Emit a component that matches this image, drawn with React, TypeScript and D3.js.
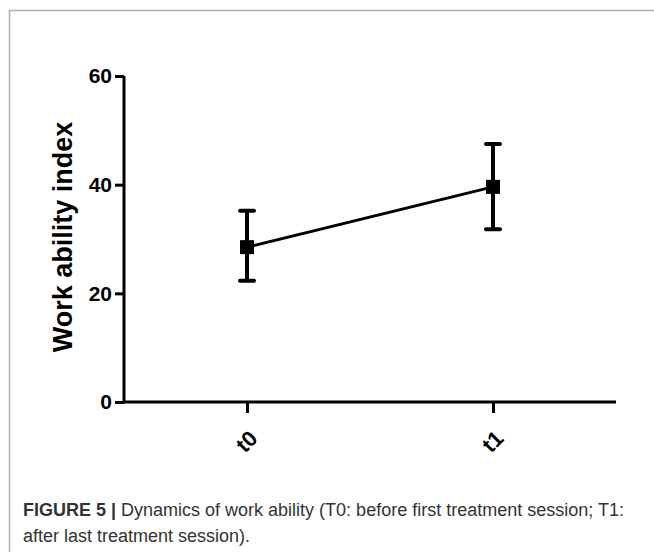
import {useEffect, useRef} from 'react';
import * as d3 from 'd3';

const [W, H] = [654, 552];

const timepoints = ['t0', 't1'];
const means = [28.5, 39.6];
const upper = [35.2, 47.5];
const lower = [22.3, 31.8];
const yTicks = [0, 20, 40, 60];

const FONT = '"Liberation Sans", Arial, sans-serif';

function App() {
    const svgRef = useRef<SVGSVGElement>(null);

    useEffect(() => {
        if (!svgRef.current) return;
        const svg = d3.select(svgRef.current);
        svg.selectAll('*').remove();

        // frame of the figure panel
        svg.append('path')
            .attr('d', `M9.5,${H} V10.5 H${W}`)
            .attr('fill', 'none')
            .attr('stroke', '#b0b0b0')
            .attr('stroke-width', 1.5);

        const x = d3.scalePoint<string>().domain(timepoints).range([124, 616]).padding(0.5);
        const y = d3.scaleLinear().domain([0, 60]).range([402, 76]);

        const yAxis = svg.append('g')
            .attr('transform', 'translate(124,0)')
            .call(d3.axisLeft(y).tickValues(yTicks).tickSize(9).tickPadding(3));
        yAxis.select('.domain').attr('stroke', '#000').attr('stroke-width', 3).attr('d', `M0,${y(60)}V${y(0)}`);
        yAxis.selectAll('.tick line').attr('stroke', '#000').attr('stroke-width', 3);
        yAxis.selectAll('.tick text')
            .attr('font-family', FONT)
            .attr('font-weight', 'bold')
            .attr('font-size', 21)
            .attr('fill', '#000');

        const xAxis = svg.append('g')
            .attr('transform', `translate(0,${y(0)})`)
            .call(d3.axisBottom(x).tickSize(11).tickFormat(() => ''));
        xAxis.select('.domain').attr('stroke', '#000').attr('stroke-width', 3).attr('d', 'M124,0H616');
        xAxis.selectAll('.tick line').attr('stroke', '#000').attr('stroke-width', 3);

        svg.append('g').selectAll('text')
            .data(timepoints)
            .join('text')
            .attr('transform', d => `translate(${x(d)! + 1},${y(0) + 27}) rotate(-45)`)
            .attr('text-anchor', 'end')
            .attr('dy', '0.7em')
            .attr('font-family', FONT)
            .attr('font-weight', 'bold')
            .attr('font-size', 22)
            .text(d => d);

        svg.append('text')
            .attr('transform', `translate(72,237) rotate(-90)`)
            .attr('text-anchor', 'middle')
            .attr('font-family', FONT)
            .attr('font-weight', 'bold')
            .attr('font-size', 27)
            .text('Work ability index');

        // connecting line
        const pts = timepoints.map((t, i) => [x(t)!, y(means[i])] as [number, number]);
        svg.append('path')
            .attr('d', d3.line()(pts))
            .attr('fill', 'none')
            .attr('stroke', '#000')
            .attr('stroke-width', 3);

        const bars = svg.append('g').selectAll('g')
            .data(timepoints)
            .join('g');
        bars.append('line')
            .attr('x1', d => x(d)!).attr('x2', d => x(d)!)
            .attr('y1', (d, i) => y(upper[i])).attr('y2', (d, i) => y(lower[i]))
            .attr('stroke', '#000').attr('stroke-width', 4);
        [upper, lower].forEach(arr => {
            bars.append('line')
                .attr('x1', d => x(d)! - 7).attr('x2', d => x(d)! + 7)
                .attr('y1', (d, i) => y(arr[i])).attr('y2', (d, i) => y(arr[i]))
                .attr('stroke', '#000').attr('stroke-width', 4).attr('stroke-linecap', 'round');
        });
        bars.append('rect')
            .attr('x', d => x(d)! - 7)
            .attr('y', (d, i) => y(means[i]) - 7)
            .attr('width', 14)
            .attr('height', 14)
            .attr('fill', '#000');

        const cap = svg.append('text')
            .attr('x', 23)
            .attr('y', 516)
            .attr('font-family', FONT)
            .attr('font-size', 18)
            .attr('fill', '#333');
        cap.append('tspan').attr('font-weight', 'bold').text('FIGURE 5 | ');
        cap.append('tspan').text('Dynamics of work ability (T0: before first treatment session; T1:');
        svg.append('text')
            .attr('x', 23)
            .attr('y', 542)
            .attr('font-family', FONT)
            .attr('font-size', 18)
            .attr('fill', '#333')
            .text('after last treatment session).');
    }, []);

    return (
        <svg ref={svgRef} width={W} height={H}
             style={{position: 'absolute', left: 0, top: 0, background: '#fff'}} />
    );
}

export default App;
